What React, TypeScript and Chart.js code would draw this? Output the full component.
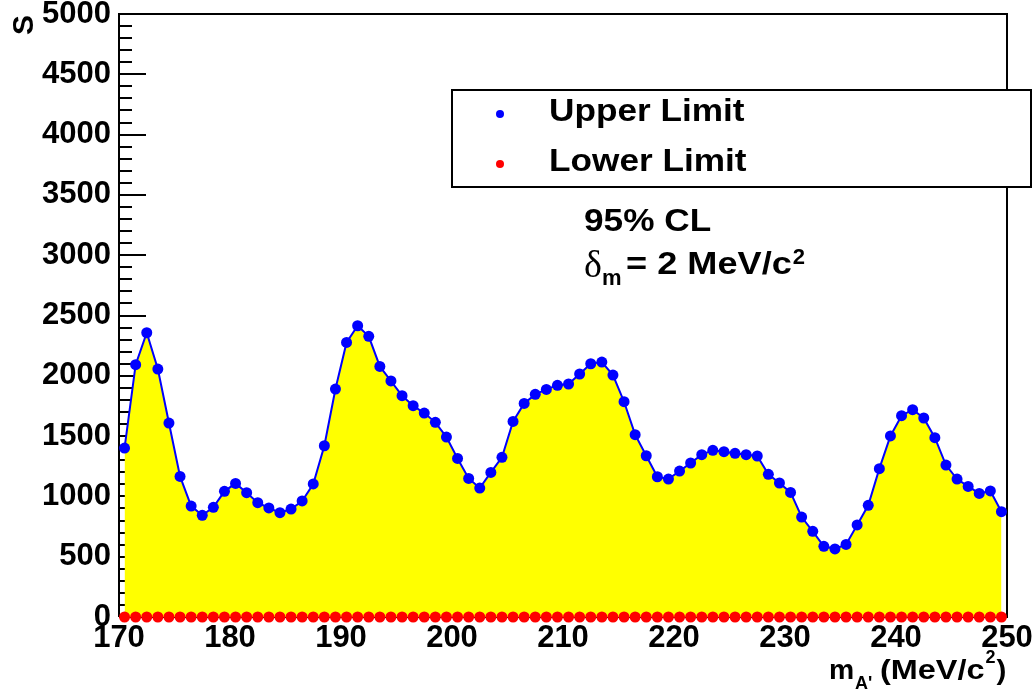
import React, { useEffect, useRef } from "react";
import { Chart, registerables } from "chart.js";

Chart.register(...registerables);

// ---- data ----
const massPoints: number[] = [
  170.5, 171.5, 172.5, 173.5, 174.5, 175.5, 176.5, 177.5, 178.5, 179.5,
  180.5, 181.5, 182.5, 183.5, 184.5, 185.5, 186.5, 187.5, 188.5, 189.5,
  190.5, 191.5, 192.5, 193.5, 194.5, 195.5, 196.5, 197.5, 198.5, 199.5,
  200.5, 201.5, 202.5, 203.5, 204.5, 205.5, 206.5, 207.5, 208.5, 209.5,
  210.5, 211.5, 212.5, 213.5, 214.5, 215.5, 216.5, 217.5, 218.5, 219.5,
  220.5, 221.5, 222.5, 223.5, 224.5, 225.5, 226.5, 227.5, 228.5, 229.5,
  230.5, 231.5, 232.5, 233.5, 234.5, 235.5, 236.5, 237.5, 238.5, 239.5,
  240.5, 241.5, 242.5, 243.5, 244.5, 245.5, 246.5, 247.5, 248.5, 249.5,
];

const upperLimit: number[] = [
  1401, 2092, 2357, 2056, 1608, 1166, 920, 843, 909, 1042,
  1108, 1031, 948, 904, 865, 895, 962, 1103, 1420, 1890,
  2277, 2415, 2327, 2078, 1957, 1835, 1752, 1691, 1614, 1492,
  1315, 1149, 1069, 1199, 1324, 1622, 1771, 1846, 1887, 1921,
  1932, 2015, 2100, 2114, 2006, 1785, 1512, 1337, 1163, 1144,
  1210, 1277, 1346, 1382, 1371, 1357, 1346, 1335, 1183, 1111,
  1033, 829, 710, 586, 564, 602, 763, 926, 1230, 1501,
  1669, 1719, 1650, 1487, 1260, 1144, 1083, 1025, 1045, 873,
];

const lowerLimit: number[] = [
  0, 0, 0, 0, 0, 0, 0, 0, 0, 0,
  0, 0, 0, 0, 0, 0, 0, 0, 0, 0,
  0, 0, 0, 0, 0, 0, 0, 0, 0, 0,
  0, 0, 0, 0, 0, 0, 0, 0, 0, 0,
  0, 0, 0, 0, 0, 0, 0, 0, 0, 0,
  0, 0, 0, 0, 0, 0, 0, 0, 0, 0,
  0, 0, 0, 0, 0, 0, 0, 0, 0, 0,
  0, 0, 0, 0, 0, 0, 0, 0, 0, 0,
];

const xTickValues: number[] = [170, 180, 190, 200, 210, 220, 230, 240, 250];
const yTickValues: number[] = [0, 500, 1000, 1500, 2000, 2500, 3000, 3500, 4000, 4500, 5000];
const yMinorStep = 100;

const seriesLabels: string[] = ["Upper Limit", "Lower Limit"];
const clText = "95% CL";

const FONT = "'Liberation Sans', Arial, Helvetica, sans-serif";

function drawText(
  ctx: CanvasRenderingContext2D,
  text: string,
  x: number,
  y: number,
  size: number,
  sx: number,
  weight = "bold",
  family = FONT
): number {
  ctx.save();
  ctx.font = `${weight} ${size}px ${family}`;
  ctx.textAlign = "left";
  ctx.textBaseline = "alphabetic";
  ctx.fillStyle = "#000";
  const w = ctx.measureText(text).width;
  ctx.translate(x, y);
  ctx.scale(sx, 1);
  ctx.fillText(text, 0, 0);
  ctx.restore();
  return w * sx;
}

const framePlugin = {
  id: "rootFrame",
  beforeDatasetsDraw(chart: any) {
    const { ctx, chartArea: a, scales } = chart;
    const y = scales.y;
    ctx.save();
    ctx.strokeStyle = "#000";
    ctx.lineWidth = 2;
    ctx.beginPath();
    ctx.moveTo(a.left, a.bottom);
    ctx.lineTo(a.left, a.top);
    ctx.lineTo(a.right, a.top);
    ctx.lineTo(a.right, a.bottom);
    ctx.lineTo(a.left, a.bottom);
    ctx.stroke();
    const yMax = yTickValues[yTickValues.length - 1];
    for (let v = yTickValues[0]; v <= yMax; v += yMinorStep) {
      const py = Math.round(y.getPixelForValue(v));
      const len = yTickValues.includes(v) ? 27 : 13;
      ctx.beginPath();
      ctx.moveTo(a.left, py);
      ctx.lineTo(a.left + len, py);
      ctx.stroke();
    }
    ctx.restore();
  },
  afterDraw(chart: any) {
    const { ctx } = chart;
    ctx.save();
    // legend box
    ctx.fillStyle = "#fff";
    ctx.fillRect(452, 90, 579, 97);
    ctx.strokeStyle = "#000";
    ctx.lineWidth = 2;
    ctx.strokeRect(452, 90, 579, 97);
    const colors = ["#0000ff", "#ff0000"];
    const rows = [114, 164];
    const baselines = [121, 171];
    for (let i = 0; i < 2; i++) {
      ctx.fillStyle = colors[i];
      ctx.beginPath();
      ctx.arc(500, rows[i], 4, 0, Math.PI * 2);
      ctx.fill();
      drawText(ctx, seriesLabels[i], 549, baselines[i], 32, 1.1);
    }
    // annotations
    drawText(ctx, clText, 584, 231, 32, 1.1);
    drawText(ctx, "\u03b4", 584, 277, 38, 1.0, "normal", "'Liberation Serif', 'DejaVu Serif', serif");
    drawText(ctx, "m", 602, 285, 22, 1.0);
    let x = 626;
    x += drawText(ctx, "= 2 MeV/c", x, 274, 32, 1.13);
    drawText(ctx, "2", x + 1, 264, 22, 1.0);

    // y axis title (rotated)
    ctx.save();
    ctx.translate(33, 35);
    ctx.rotate(-Math.PI / 2);
    drawText(ctx, "S", 0, 0, 30, 1.0);
    ctx.restore();

    // x axis title
    drawText(ctx, "m", 829, 679, 27, 1.05);
    drawText(ctx, "A'", 855, 689, 18, 1.0);
    let xx = 880;
    xx += drawText(ctx, "(MeV/c", xx, 679, 27, 1.2);
    drawText(ctx, "2", xx + 1, 663, 18, 1.0);
    drawText(ctx, ")", xx + 12, 679, 27, 1.1);
    ctx.restore();
  },
};

export default function App() {
  const canvasRef = useRef<HTMLCanvasElement | null>(null);

  useEffect(() => {
    if (!canvasRef.current) return;
    const tickFont = { family: FONT, size: 31, weight: "bold" as const, lineHeight: 1.2 };
    const chart = new Chart(canvasRef.current, {
      type: "line",
      data: {
        datasets: [
          {
            label: seriesLabels[0],
            data: massPoints.map((m, i) => ({ x: m, y: upperLimit[i] })),
            borderColor: "#0000ff",
            borderWidth: 2,
            backgroundColor: "#ffff00",
            fill: "origin",
            tension: 0,
            pointRadius: 5.5,
            pointBackgroundColor: "#0000ff",
            pointBorderColor: "#0000ff",
            pointBorderWidth: 0,
            order: 1,
            clip: false as any,
          },
          {
            label: seriesLabels[1],
            data: massPoints.map((m, i) => ({ x: m, y: lowerLimit[i] })),
            showLine: false,
            borderColor: "#ff0000",
            backgroundColor: "#ff0000",
            fill: false,
            pointRadius: 5.5,
            pointBackgroundColor: "#ff0000",
            pointBorderColor: "#ff0000",
            pointBorderWidth: 0,
            order: 0,
            clip: false as any,
          },
        ],
      },
      options: {
        animation: false,
        responsive: false,
        devicePixelRatio: 1,
        layout: { padding: { top: 14, right: 27, left: 0, bottom: 0 } },
        plugins: {
          legend: { display: false },
          tooltip: { enabled: false },
          title: { display: false },
        },
        scales: {
          x: {
            type: "linear",
            min: xTickValues[0],
            max: xTickValues[xTickValues.length - 1],
            grid: { display: false, drawTicks: false },
            border: { display: false },
            afterBuildTicks: (scale: any) => {
              scale.ticks = xTickValues.map((v) => ({ value: v }));
            },
            afterFit: (scale: any) => {
              scale.height = 77;
              scale.paddingLeft = 0;
              scale.paddingRight = 0;
            },
            ticks: {
              autoSkip: false,
              maxRotation: 0,
              minRotation: 0,
              padding: 3,
              color: "#000",
              font: tickFont,
              callback: (v: any) => String(v),
            },
          },
          y: {
            type: "linear",
            min: yTickValues[0],
            max: yTickValues[yTickValues.length - 1],
            grid: { display: false, drawTicks: false },
            border: { display: false },
            afterBuildTicks: (scale: any) => {
              scale.ticks = yTickValues.map((v) => ({ value: v }));
            },
            afterFit: (scale: any) => {
              scale.width = 119;
              scale.paddingTop = 0;
              scale.paddingBottom = 0;
            },
            ticks: {
              autoSkip: false,
              padding: 8,
              color: "#000",
              font: tickFont,
              callback: (v: any) => String(v),
            },
          },
        },
      },
      plugins: [framePlugin],
    });
    return () => chart.destroy();
  }, []);

  return (
    <div style={{ position: "absolute", left: 0, top: 0, width: 1034, height: 694, background: "#fff" }}>
      <canvas ref={canvasRef} width={1034} height={694} style={{ display: "block" }} />
    </div>
  );
}
